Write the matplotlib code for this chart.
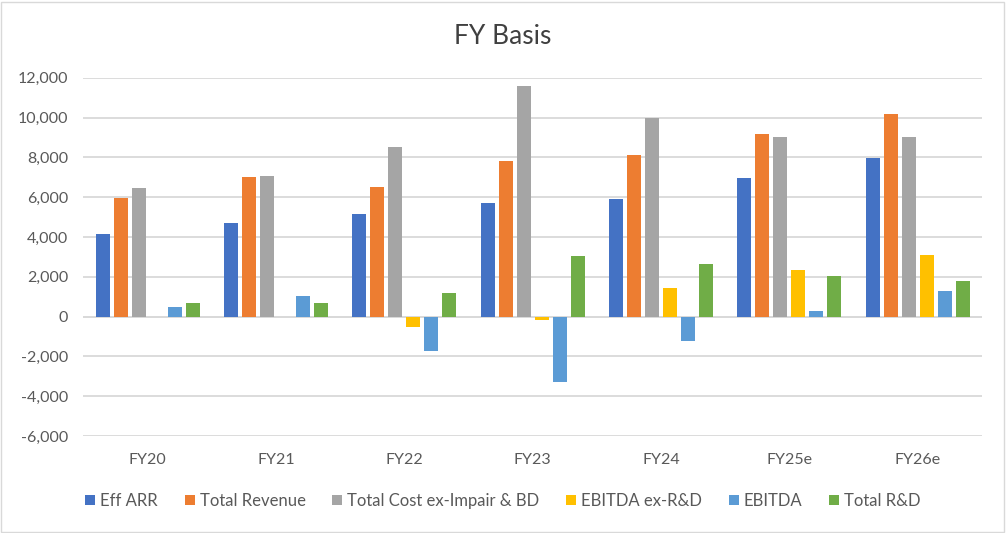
import numpy as np
import matplotlib.pyplot as plt
from matplotlib.ticker import FuncFormatter, MultipleLocator

plt.rcParams['font.family'] = ['Lato', 'DejaVu Sans']

# data
years = ["FY20", "FY21", "FY22", "FY23", "FY24", "FY25e", "FY26e"]
eff_arr = [4150, 4700, 5160, 5710, 5910, 6970, 7970]
total_revenue = [5960, 7010, 6510, 7820, 8120, 9170, 10170]
total_cost = [6460, 7060, 8520, 11590, 9970, 9020, 9020]
ebitda_ex_rd = [0, 0, -510, -150, 1440, 2340, 3090]
ebitda = [490, 1040, -1720, -3280, -1220, 290, 1290]
total_rd = [690, 690, 1190, 3050, 2650, 2040, 1790]

series = [
    ("Eff ARR", eff_arr, "#4472C4"),
    ("Total Revenue", total_revenue, "#ED7D31"),
    ("Total Cost ex-Impair & BD", total_cost, "#A5A5A5"),
    ("EBITDA ex-R&D", ebitda_ex_rd, "#FFC000"),
    ("EBITDA", ebitda, "#5B9BD5"),
    ("Total R&D", total_rd, "#70AD47"),
]

fig = plt.figure(figsize=(10.06, 5.33), dpi=100)
ax = fig.add_axes([0.083, 0.182, 0.893, 0.672])

x = np.arange(len(years))
step = 0.140
width = 0.109
for i, (name, vals, color) in enumerate(series):
    ax.bar(x + (i - 2.5) * step, vals, width, color=color, label=name, zorder=3)

ax.set_xlim(-0.5, len(years) - 0.5)
ax.set_ylim(-6000, 12000)
ax.yaxis.set_major_locator(MultipleLocator(2000))
ax.yaxis.set_major_formatter(FuncFormatter(lambda v, p: f"{v:,.0f}"))
ax.set_xticks(x)
ax.set_xticklabels(years)
ax.grid(axis="y", color="#D9D9D9", linewidth=1.3, zorder=0)
ax.axhline(0, color="#D9D9D9", linewidth=1.3, zorder=1)
for s in ax.spines.values():
    s.set_visible(False)
ax.tick_params(length=0, labelsize=11.5, colors="#595959", pad=11)
ax.tick_params(axis="x", pad=12)

fig.suptitle("FY Basis", y=0.955, fontsize=19, color="#404040")

fig.legend(loc="center", bbox_to_anchor=(0.5, 0.06), ncol=6, frameon=False,
           fontsize=12, labelcolor="#595959", handlelength=0.6, handleheight=0.6,
           handletextpad=0.3, columnspacing=1.6)

# light frame around the chart area like the source
fig.patches.append(plt.Rectangle((0.001, 0.002), 0.997, 0.995, transform=fig.transFigure,
                                 fill=False, edgecolor="#D9D9D9", linewidth=1))

fig.savefig("out.png", dpi=100)
